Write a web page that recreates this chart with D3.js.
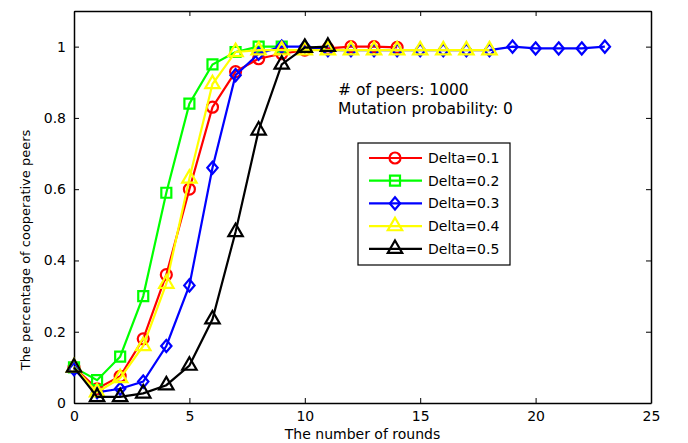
<!DOCTYPE html>
<html>
<head>
<meta charset="utf-8">
<script src="https://cdn.jsdelivr.net/npm/d3@7"></script>
<style>
    body { margin: 0; background: #fff; }
    text { font-family: "DejaVu Sans", sans-serif; }
</style>
</head>
<body>
<div id="wrapper"></div>
<script>
// Data
const delta01 = [0.10, 0.04, 0.075, 0.18, 0.36, 0.60, 0.83, 0.93, 0.966, 0.98, 0.99, 0.995, 1.0, 1.0, 0.998];
const delta02 = [0.10, 0.064, 0.13, 0.30, 0.59, 0.84, 0.95, 0.985, 1.0, 1.0];
const delta03 = [0.095, 0.03, 0.04, 0.06, 0.16, 0.33, 0.66, 0.92, 0.98, 1.0, 1.0, 0.99, 0.99, 0.99, 0.99, 0.99, 0.99, 0.99, 0.99, 1.0, 0.995, 0.995, 0.995, 1.0];
const delta04 = [0.10, 0.03, 0.07, 0.16, 0.335, 0.63, 0.895, 0.985, 0.99, 0.99, 0.99, 0.99, 0.99, 0.99, 0.99, 0.99, 0.99, 0.99, 0.99];
const delta05 = [0.10, 0.017, 0.017, 0.027, 0.05, 0.105, 0.235, 0.48, 0.765, 0.95, 0.997, 1.0];

const seriesNames = ["Delta=0.1", "Delta=0.2", "Delta=0.3", "Delta=0.4", "Delta=0.5"];
const seriesValues = [delta01, delta02, delta03, delta04, delta05];
const seriesColors = ["#ff0000", "#00ff00", "#0000ff", "#ffff00", "#000000"];

const xTicks = [0, 5, 10, 15, 20, 25];
const yTicks = [0, 0.2, 0.4, 0.6, 0.8, 1];
const notes = ["# of peers: 1000", "Mutation probability: 0"];

// matlab-ish diamond: a bit wider than d3's
const wideDiamond = {
    draw(context, size) {
        const h = Math.sqrt(size) * 0.68, w = h * 0.85;
        context.moveTo(0, -h);
        context.lineTo(w, 0);
        context.lineTo(0, h);
        context.lineTo(-w, 0);
        context.closePath();
    }
};
const seriesMarkers = [d3.symbolCircle, d3.symbolSquare, wideDiamond, d3.symbolTriangle, d3.symbolTriangle];
const markerSizes = [95, 100, 80, 90, 90];

// Dimensions
const dimensions = {
    width: 688,
    height: 443,
    margin: { top: 11, right: 37, bottom: 40, left: 74 },
};
dimensions.boundedWidth = dimensions.width - dimensions.margin.left - dimensions.margin.right;
dimensions.boundedHeight = dimensions.height - dimensions.margin.top - dimensions.margin.bottom;

const wrapper = d3.select("#wrapper")
    .append("svg")
    .attr("width", dimensions.width)
    .attr("height", dimensions.height);

const bounds = wrapper.append("g")
    .attr("transform", `translate(${dimensions.margin.left},${dimensions.margin.top})`);

// Scales
const xScale = d3.scaleLinear()
    .domain([0, 25])
    .range([0, dimensions.boundedWidth]);
const yScale = d3.scaleLinear()
    .domain([0, 1.1])
    .range([dimensions.boundedHeight, 0]);

// Axes (matlab style: ticks inside, box all round)
const tickLen = 5;
const xAxis = bounds.append("g")
    .attr("transform", `translate(0,${dimensions.boundedHeight})`)
    .call(d3.axisBottom(xScale).tickValues(xTicks).tickSizeInner(-tickLen).tickSizeOuter(0).tickPadding(8));
const xAxisTop = bounds.append("g")
    .call(d3.axisTop(xScale).tickValues(xTicks).tickSizeInner(-tickLen).tickSizeOuter(0).tickFormat(""));
const yAxis = bounds.append("g")
    .call(d3.axisLeft(yScale).tickValues(yTicks).tickSizeInner(-tickLen).tickSizeOuter(0).tickPadding(8)
        .tickFormat(d => d === 0 || d === 1 ? d3.format("d")(d) : d3.format(".1f")(d)));
const yAxisRight = bounds.append("g")
    .attr("transform", `translate(${dimensions.boundedWidth},0)`)
    .call(d3.axisRight(yScale).tickValues(yTicks).tickSizeInner(-tickLen).tickSizeOuter(0).tickFormat(""));

[xAxis, xAxisTop, yAxis, yAxisRight].forEach(a => {
    a.select(".domain").attr("stroke", "#000").attr("stroke-width", 1.5);
    a.selectAll(".tick line").attr("stroke", "#000").attr("stroke-width", 1);
    a.selectAll(".tick text").attr("fill", "#000").style("font-size", "14px")
        .style("font-family", "'DejaVu Sans', sans-serif");
});

// Axis labels
wrapper.append("text")
    .attr("x", dimensions.margin.left + dimensions.boundedWidth / 2)
    .attr("y", 439)
    .attr("text-anchor", "middle")
    .style("font-size", "14px")
    .text("The number of rounds");
wrapper.append("text")
    .attr("transform", "translate(30,250) rotate(-90)")
    .attr("text-anchor", "middle")
    .style("font-size", "13px")
    .text("The percentage of cooperative peers");

// Lines and markers
const lineGenerator = d3.line()
    .x((d, i) => xScale(i))
    .y(d => yScale(d));

seriesValues.forEach((values, s) => {
    const g = bounds.append("g");
    g.append("path")
        .datum(values)
        .attr("d", lineGenerator)
        .attr("fill", "none")
        .attr("stroke", seriesColors[s])
        .attr("stroke-width", 2.2);
    g.selectAll("path.marker")
        .data(values)
        .enter().append("path")
        .attr("class", "marker")
        .attr("transform", (d, i) => `translate(${xScale(i)},${yScale(d)})`)
        .attr("d", d3.symbol().type(seriesMarkers[s]).size(markerSizes[s]))
        .attr("fill", "none")
        .attr("stroke", seriesColors[s])
        .attr("stroke-width", 2.2);
});

// Annotation
bounds.append("g")
    .selectAll("text")
    .data(notes)
    .enter().append("text")
    .attr("x", 264)
    .attr("y", (d, i) => 84 + i * 19)
    .style("font-size", "15.5px")
    .text(d => d);

// Legend
const legend = wrapper.append("g")
    .attr("transform", "translate(358,143)");
legend.append("rect")
    .attr("width", 152)
    .attr("height", 122)
    .attr("fill", "#fff")
    .attr("stroke", "#000")
    .attr("stroke-width", 1.2);
const rows = legend.selectAll("g.row")
    .data(seriesNames)
    .enter().append("g")
    .attr("class", "row")
    .attr("transform", (d, i) => `translate(0,${15 + i * 22.7})`);
rows.append("line")
    .attr("x1", 11).attr("x2", 64)
    .attr("stroke", (d, i) => seriesColors[i])
    .attr("stroke-width", 2.2);
rows.append("path")
    .attr("transform", "translate(37,0)")
    .attr("d", (d, i) => d3.symbol().type(seriesMarkers[i]).size(markerSizes[i])())
    .attr("fill", "none")
    .attr("stroke", (d, i) => seriesColors[i])
    .attr("stroke-width", 2.2);
rows.append("text")
    .attr("x", 70)
    .attr("dy", "0.36em")
    .style("font-size", "14px")
    .text(d => d);
</script>
</body>
</html>
